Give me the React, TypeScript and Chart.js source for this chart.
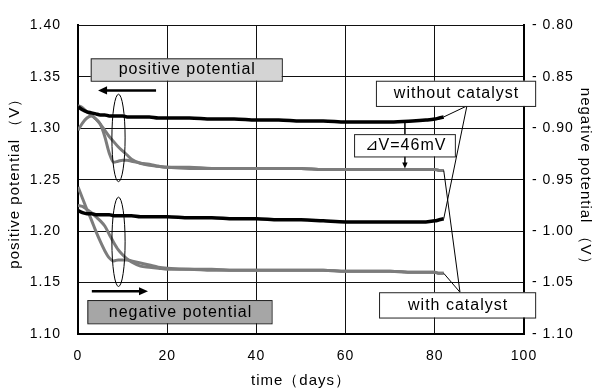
import React, { useEffect, useRef } from "react";
import { Chart, registerables } from "chart.js";

Chart.register(...registerables);

// ---- data ----
const days = [0, 1, 2, 3, 4, 5, 6, 7, 8, 9, 10, 11, 12, 14, 16, 18, 20, 25, 30, 35, 40, 45, 50, 55, 60, 65, 70, 75, 78, 80, 81, 82];

// positive potential (left axis, V)
const posWithout = [1.321, 1.318, 1.316, 1.315, 1.314, 1.313, 1.313, 1.312, 1.312, 1.312, 1.312, 1.311, 1.311, 1.311, 1.311, 1.310, 1.310, 1.310, 1.309, 1.309, 1.308, 1.308, 1.307, 1.307, 1.306, 1.306, 1.306, 1.307, 1.308, 1.309, 1.310, 1.311];
const posWithA = [1.322, 1.320, 1.316, 1.313, 1.309, 1.304, 1.292, 1.276, 1.267, 1.268, 1.269, 1.269, 1.268, 1.266, 1.265, 1.263, 1.262, 1.261, 1.261, 1.261, 1.261, 1.261, 1.261, 1.260, 1.260, 1.260, 1.260, 1.260, 1.260, 1.260, 1.259, 1.259];
const posWithB = [1.298, 1.305, 1.310, 1.312, 1.309, 1.304, 1.298, 1.292, 1.287, 1.282, 1.278, 1.274, 1.270, 1.266, 1.264, 1.263, 1.262, 1.262, 1.261, 1.261, 1.261, 1.261, 1.261, 1.260, 1.260, 1.260, 1.260, 1.260, 1.260, 1.260, 1.259, 1.259];

// negative potential (right axis, V)
const negWithout = [-0.980, -0.982, -0.983, -0.983, -0.984, -0.984, -0.984, -0.984, -0.985, -0.985, -0.985, -0.985, -0.985, -0.986, -0.986, -0.986, -0.986, -0.987, -0.987, -0.988, -0.988, -0.989, -0.989, -0.990, -0.991, -0.991, -0.991, -0.991, -0.991, -0.990, -0.989, -0.988];
const negWithC = [-0.957, -0.968, -0.979, -0.989, -1.000, -1.010, -1.019, -1.026, -1.029, -1.028, -1.028, -1.028, -1.029, -1.031, -1.033, -1.035, -1.036, -1.037, -1.037, -1.038, -1.038, -1.038, -1.038, -1.038, -1.039, -1.039, -1.039, -1.040, -1.040, -1.040, -1.041, -1.041];
const negWithD = [-0.975, -0.976, -0.979, -0.982, -0.986, -0.990, -0.995, -1.003, -1.011, -1.018, -1.023, -1.027, -1.030, -1.034, -1.035, -1.036, -1.037, -1.037, -1.038, -1.038, -1.038, -1.038, -1.038, -1.038, -1.039, -1.039, -1.039, -1.040, -1.040, -1.040, -1.041, -1.041];

const xTicks = [0, 20, 40, 60, 80, 100];
const leftTicks = [1.1, 1.15, 1.2, 1.25, 1.3, 1.35, 1.4];
const rightTicks = [-1.1, -1.05, -1.0, -0.95, -0.9, -0.85, -0.8];

const xTitle = "time（days）";
const leftTitle = "positive potential （V）";
const rightTitle = "negative potential （V）";
const deltaLabel = "⊿V=46mV";

const FONT = "'Liberation Sans', Arial, sans-serif";
const BLACK = "#000000";
const GRAY = "#7c7c7c";

const pts = (ys: number[]) => days.map((d, i) => ({ x: d, y: ys[i] }));

function arrow(ctx: CanvasRenderingContext2D, x1: number, y1: number, x2: number, y2: number, w: number, head: number) {
  const ang = Math.atan2(y2 - y1, x2 - x1);
  ctx.beginPath();
  ctx.lineWidth = w;
  ctx.moveTo(x1, y1);
  ctx.lineTo(x2 - Math.cos(ang) * head * 0.8, y2 - Math.sin(ang) * head * 0.8);
  ctx.stroke();
  ctx.beginPath();
  ctx.moveTo(x2, y2);
  ctx.lineTo(x2 - Math.cos(ang) * head + Math.sin(ang) * head * 0.45, y2 - Math.sin(ang) * head - Math.cos(ang) * head * 0.45);
  ctx.lineTo(x2 - Math.cos(ang) * head - Math.sin(ang) * head * 0.45, y2 - Math.sin(ang) * head + Math.cos(ang) * head * 0.45);
  ctx.closePath();
  ctx.fill();
}

function interp(xs: number[], ys: number[], v: number) {
  for (let i = 1; i < xs.length; i++) {
    if (v <= xs[i]) {
      const t = (v - xs[i - 1]) / (xs[i] - xs[i - 1]);
      return ys[i - 1] + t * (ys[i] - ys[i - 1]);
    }
  }
  return ys[ys.length - 1];
}

const annotations = {
  id: "annotations",
  beforeDraw(chart: any) {
    chart.ctx.letterSpacing = "1px";
  },
  beforeDatasetsDraw(chart: any) {
    chart.ctx.letterSpacing = "0px";
  },
  afterDatasetsDraw(chart: any) {
    const ctx: CanvasRenderingContext2D = chart.ctx;
    const xs = chart.scales.x;
    const ys = chart.scales.y;
    const X = (v: number) => xs.getPixelForValue(v);
    const Y = (v: number) => ys.getPixelForValue(v);
    ctx.save();
    (ctx as any).letterSpacing = "1px";
    ctx.strokeStyle = "#000";
    ctx.fillStyle = "#000";

    const box = (x1: number, y1: number, x2: number, y2: number, fill: string, text: string) => {
      const l = X(x1), r = X(x2), t = Y(y1), b = Y(y2);
      ctx.fillStyle = fill;
      ctx.fillRect(l, t, r - l, b - t);
      ctx.lineWidth = 1;
      ctx.strokeStyle = "#222";
      ctx.strokeRect(l + 0.5, t + 0.5, r - l, b - t);
      ctx.fillStyle = "#000";
      ctx.font = `16px ${FONT}`;
      ctx.textAlign = "center";
      ctx.textBaseline = "middle";
      ctx.fillText(text, (l + r) / 2 + 1, (t + b) / 2 + 0.5);
    };

    const end = (i: number) => {
      const d = chart.getDatasetMeta(i).data;
      const p = d[d.length - 1];
      return { x: p.x, y: p.y };
    };

    // callout lines
    ctx.lineWidth = 1;
    ctx.strokeStyle = "#000";
    const wAnchor = { x: X(87.2), y: Y(1.3217) };
    const cAnchor = { x: X(85.65), y: Y(1.1406) };
    const e0 = end(0), e3 = end(3), e1 = end(1), e4 = end(4);
    ctx.beginPath();
    ctx.moveTo(wAnchor.x, wAnchor.y); ctx.lineTo(e0.x, e0.y);
    ctx.moveTo(wAnchor.x, wAnchor.y); ctx.lineTo(e3.x, e3.y);
    ctx.moveTo(cAnchor.x, cAnchor.y); ctx.lineTo(e1.x, e1.y);
    ctx.moveTo(cAnchor.x, cAnchor.y); ctx.lineTo(e4.x, e4.y);
    ctx.stroke();

    // ellipses
    ctx.lineWidth = 1;
    ctx.beginPath();
    ctx.ellipse(X(9.08), Y(1.2906), 6.6, Y(1.2906) - Y(1.2906 + 0.0425), 0, 0, Math.PI * 2);
    ctx.stroke();
    ctx.beginPath();
    ctx.ellipse(X(9.08), Y(1.1896), 6.6, Y(1.1896) - Y(1.1896 + 0.0434), 0, 0, Math.PI * 2);
    ctx.stroke();

    // direction arrows
    ctx.fillStyle = "#000";
    ctx.strokeStyle = "#000";
    arrow(ctx, X(17.5), Y(1.3368), X(4.5), Y(1.3368), 2.5, 9);
    arrow(ctx, X(3.1), Y(1.1415), X(15.7), Y(1.1415), 2.5, 9);

    // delta V arrow
    const dx = 73.3;
    const yTop = Y(interp(days, posWithout, dx));
    const yBot = Y(interp(days, posWithA, dx));
    ctx.lineWidth = 1.5;
    ctx.beginPath();
    ctx.moveTo(X(dx), yTop);
    ctx.lineTo(X(dx), Y(1.2943));
    ctx.stroke();
    arrow(ctx, X(dx), Y(1.2726), X(dx), yBot - 1, 1.5, 6);

    // boxes
    box(2.85, 1.368, 45.7, 1.3462, "#d4d4d4", "positive potential");
    box(2.1, 1.133, 43.4, 1.1104, "#a6a6a6", "negative potential");
    box(66.8, 1.3462, 102.5, 1.3217, "#ffffff", "without catalyst");
    box(67.5, 1.1406, 102.5, 1.116, "#ffffff", "with catalyst");
    box(61.9, 1.2943, 84.5, 1.2726, "#ffffff", deltaLabel);

    ctx.restore();
  },
};

export default function App() {
  const ref = useRef<HTMLCanvasElement>(null);
  useEffect(() => {
    if (!ref.current) return;
    const chart = new Chart(ref.current, {
      type: "line",
      data: {
        datasets: [
          { label: "positive without catalyst", data: pts(posWithout), yAxisID: "y", borderColor: BLACK, borderWidth: 3.5 },
          { label: "positive with catalyst A", data: pts(posWithA), yAxisID: "y", borderColor: GRAY, borderWidth: 3 },
          { label: "positive with catalyst B", data: pts(posWithB), yAxisID: "y", borderColor: GRAY, borderWidth: 3 },
          { label: "negative without catalyst", data: pts(negWithout), yAxisID: "y1", borderColor: BLACK, borderWidth: 3.5 },
          { label: "negative with catalyst C", data: pts(negWithC), yAxisID: "y1", borderColor: GRAY, borderWidth: 3 },
          { label: "negative with catalyst D", data: pts(negWithD), yAxisID: "y1", borderColor: GRAY, borderWidth: 3 },
        ].map((d) => ({ ...d, pointRadius: 0, fill: false, cubicInterpolationMode: "monotone" as const })),
      },
      options: {
        animation: false,
        responsive: false,
        layout: { padding: { top: 16, left: 0, right: 0, bottom: 0 } },
        plugins: { legend: { display: false }, tooltip: { enabled: false } },
        scales: {
          x: {
            type: "linear",
            min: 0,
            max: 100,
            afterBuildTicks: (s: any) => { s.ticks = xTicks.map((v) => ({ value: v })); },
            afterFit: (s: any) => { s.height = 58; },
            grid: { color: "#111", lineWidth: 1, drawTicks: false },
            border: { color: "#000", width: 2 },
            ticks: { color: "#000", font: { family: FONT, size: 14 }, padding: 14, maxRotation: 0 },
            title: { display: true, text: xTitle, color: "#000", font: { family: FONT, size: 15 }, padding: { top: 0, bottom: 2 } },
          },
          y: {
            type: "linear",
            position: "left",
            min: 1.1,
            max: 1.4,
            afterBuildTicks: (s: any) => { s.ticks = leftTicks.map((v) => ({ value: v })); },
            afterFit: (s: any) => { s.width = 78; },
            grid: { color: "#111", lineWidth: 1, drawTicks: false },
            border: { color: "#000", width: 2 },
            ticks: { color: "#000", font: { family: FONT, size: 14 }, padding: 17, callback: (v: any) => Number(v).toFixed(2) },
            title: { display: true, text: leftTitle, color: "#000", font: { family: FONT, size: 15 }, padding: { top: 6, bottom: 0 } },
          },
          y1: {
            type: "linear",
            position: "right",
            min: -1.1,
            max: -0.8,
            afterBuildTicks: (s: any) => { s.ticks = rightTicks.map((v) => ({ value: v })); },
            afterFit: (s: any) => { s.width = 74; },
            grid: { display: false, drawTicks: false },
            border: { color: "#000", width: 2 },
            ticks: { color: "#000", font: { family: FONT, size: 14 }, padding: 8, callback: (v: any) => "- " + Math.abs(Number(v)).toFixed(2) },
            title: { display: true, text: rightTitle, color: "#000", font: { family: FONT, size: 15 }, padding: { top: 4, bottom: 0 } },
          },
        },
      },
      plugins: [annotations],
    });
    return () => chart.destroy();
  }, []);
  return (
    <div style={{ position: "absolute", left: 0, top: 0, width: 598, height: 392, background: "#fff" }}>
      <canvas ref={ref} width={598} height={392} style={{ display: "block" }} />
    </div>
  );
}
